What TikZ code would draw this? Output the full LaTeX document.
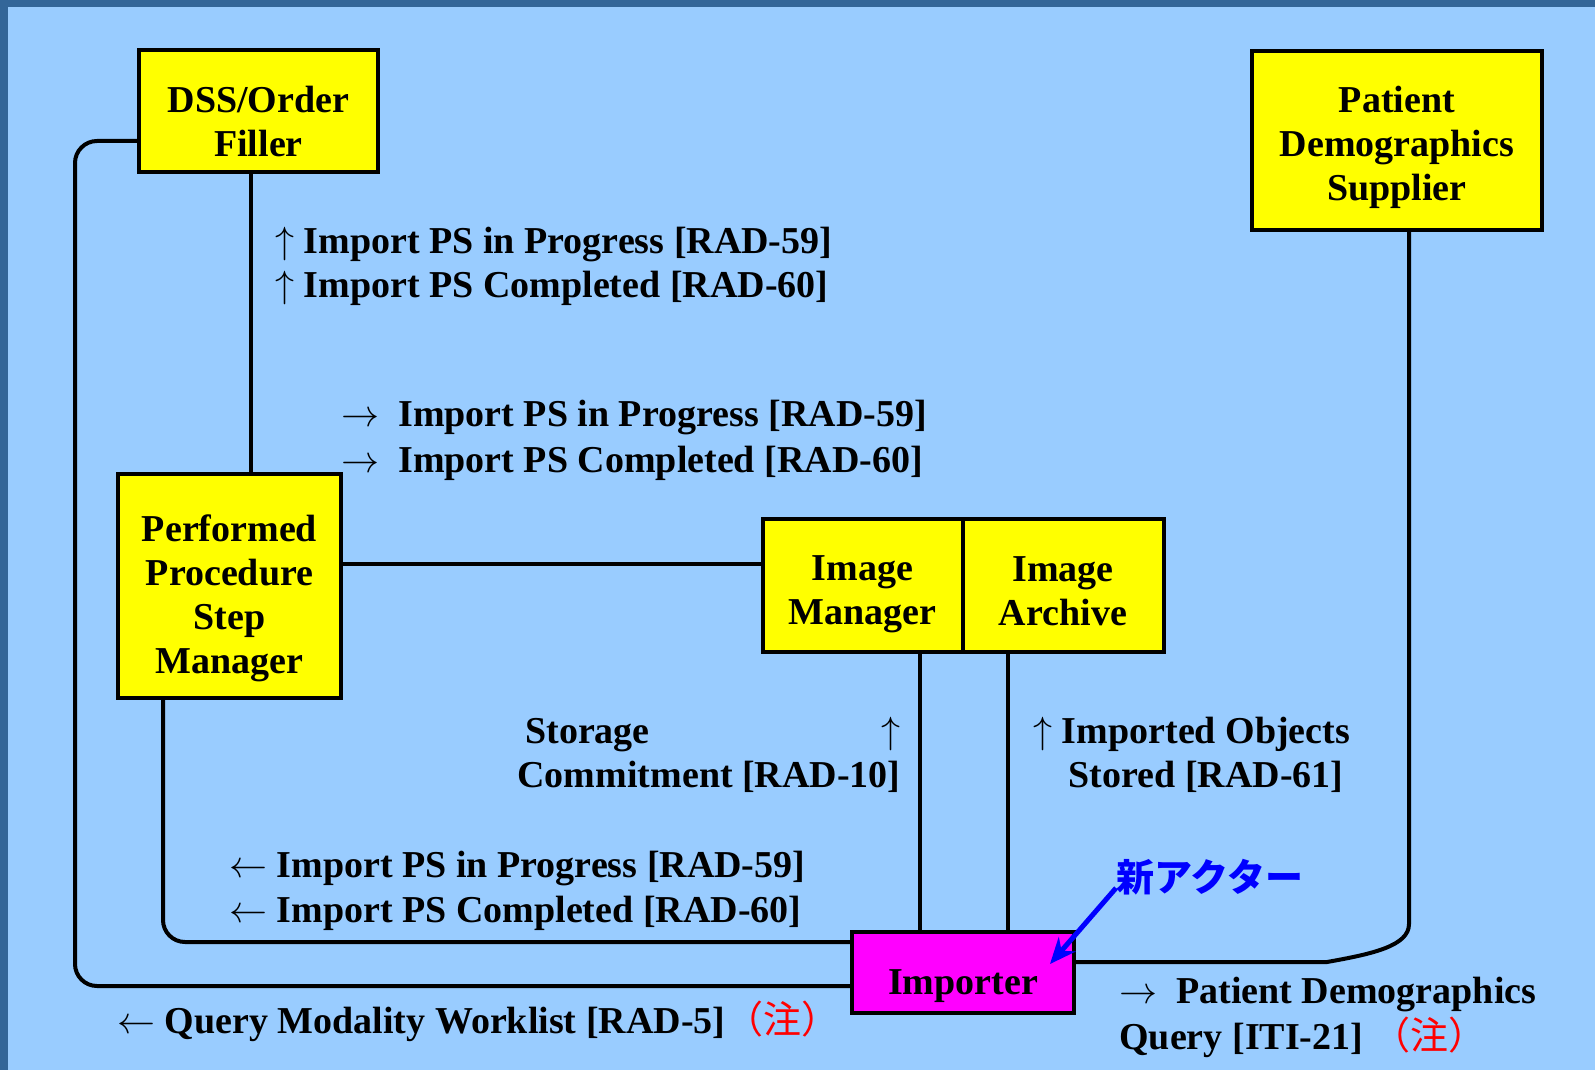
\RequirePackage{fix-cm}
\documentclass[tikz,border=0pt]{standalone}
\usepackage{fontspec}
\setmainfont{Liberation Serif}
\newfontfamily\jpfont{Noto Sans CJK JP}
\usepackage{xcolor}
\usetikzlibrary{arrows.meta,positioning,calc}

\definecolor{skyback}{HTML}{99CCFF}
\definecolor{frameblue}{HTML}{336699}
\definecolor{actoryellow}{HTML}{FFFF00}
\definecolor{newmagenta}{HTML}{FF00FF}
\definecolor{noteblue}{HTML}{0000FF}
\definecolor{notered}{HTML}{FF0000}

\newcommand{\upar}{$\uparrow$}
\newcommand{\rar}{$\rightarrow$}
\newcommand{\lar}{$\leftarrow$}
\newcommand{\chu}{{\jpfont\mdseries\color{notered}（注）}}
\newcommand{\drop}[1]{\rule{0pt}{#1}}

\tikzset{
    actor/.style={draw, line width=2pt, fill=actoryellow, align=center, inner sep=0pt, outer sep=0pt},
    trans/.style={anchor=north west, align=left, inner sep=0pt},
    link/.style={line width=2pt},
}

\begin{document}
\begin{tikzpicture}[x=0.5pt, y=-0.5pt, font=\fontsize{19}{22}\selectfont\bfseries]
    % Background
    \useasboundingbox (0,0) rectangle (1595,1070);
    \fill[frameblue] (0,0) rectangle (1595,1070);
    \fill[skyback] (8,7) rectangle (1595,1070);

    % Actors
    \node[actor, minimum width=119.5pt, minimum height=61pt] (dss) at (258.5,111) {\drop{23.2pt}DSS/Order\\Filler};
    \node[actor, minimum width=145pt, minimum height=89.5pt] (pds) at (1397,140.5) {\drop{19.8pt}Patient\\Demographics\\Supplier};
    \node[actor, minimum width=111.5pt, minimum height=112pt] (ppsm) at (229.5,586) {\drop{25.8pt}Performed\\Procedure\\Step\\Manager};
    \node[actor, minimum width=100pt, minimum height=66.5pt] (imgmgr) at (862.5,585.5) {\drop{20.7pt}Image\\Manager};
    \node[actor, minimum width=100.5pt, minimum height=66.5pt, right=0pt of imgmgr] (imgarc) {\drop{17.7pt}Image\\Archive};
    \node[actor, fill=newmagenta, minimum width=111pt, minimum height=40.5pt] (importer) at (963,972.5) {\drop{26pt}Importer};

    % Transactions
    \coordinate (wl) at (75,560);
    \coordinate (pbend) at (1409,924);
    \coordinate (pjoin) at (1327,962);
    \draw[link] ([xshift=-3.75pt]dss.south) -- ([xshift=-3.75pt]dss.south |- ppsm.north);
    \draw[link] ([yshift=11.25pt]ppsm.east) -- ([yshift=11.25pt]ppsm.east -| imgmgr.west);
    \draw[link] ([xshift=28.75pt]imgmgr.south) -- ([xshift=28.75pt]imgmgr.south |- importer.north);
    \draw[link] ([xshift=-27.5pt]imgarc.south) -- ([xshift=-27.5pt]imgarc.south |- importer.north);
    \draw[link, rounded corners=11pt] ([xshift=-33.25pt]ppsm.south) |- ([yshift=15.25pt]importer.west);
    \draw[link, rounded corners=11pt] ([yshift=-15pt]dss.west) -| (wl) |- ([yshift=-6.75pt]importer.west);
    \draw[link] ([xshift=6pt]pds.south) -- (pbend) .. controls +(0,22) and +(45,-8) .. (pjoin) -- ([yshift=5.25pt]importer.east);

    % Labels
    \node[trans] (dsslbl) at (275,227) {\upar{} Import PS in Progress [RAD-59]\\\upar{} Import PS Completed [RAD-60]};
    \node[trans, font=\fontsize{19}{23}\selectfont\bfseries] (ppslbl) at (341,400) {\rar\enspace Import PS in Progress [RAD-59]\\\rar\enspace Import PS Completed [RAD-60]};
    \node[anchor=north east, align=right, inner sep=0pt] (stclbl) at (901,717) {Storage\hspace{6.1em}\upar\\Commitment [RAD-10]};
    \node[anchor=north, align=center, inner sep=0pt] (ioslbl) at (1206,717) {\llap{\upar\ }Imported Objects\\Stored [RAD-61]};
    \node[trans, font=\fontsize{19}{22.5}\selectfont\bfseries] (implbl) at (229,851) {\lar{} Import PS in Progress [RAD-59]\\\lar{} Import PS Completed [RAD-60]};
    \node[trans] (mwllbl) at (117,1001) {\lar{} Query Modality Worklist [RAD-5]\chu};
    \node[trans, font=\fontsize{19}{23}\selectfont\bfseries] (pdqlbl) at (1119,977) {\rar\enspace Patient Demographics\\Query [ITI-21]\ \chu};

    % New actor note
    \node[anchor=west, inner sep=0pt, text=noteblue, font=\fontsize{19}{22}\selectfont\jpfont\bfseries] (newlbl) at (1116,877) {新アクター};
    \draw[noteblue, line width=2.5pt, -{Stealth[length=13pt, width=11pt]}] ([yshift=-5.5pt]newlbl.west) -- ([xshift=-12pt, yshift=-16pt]importer.north east);
\end{tikzpicture}
\end{document}
